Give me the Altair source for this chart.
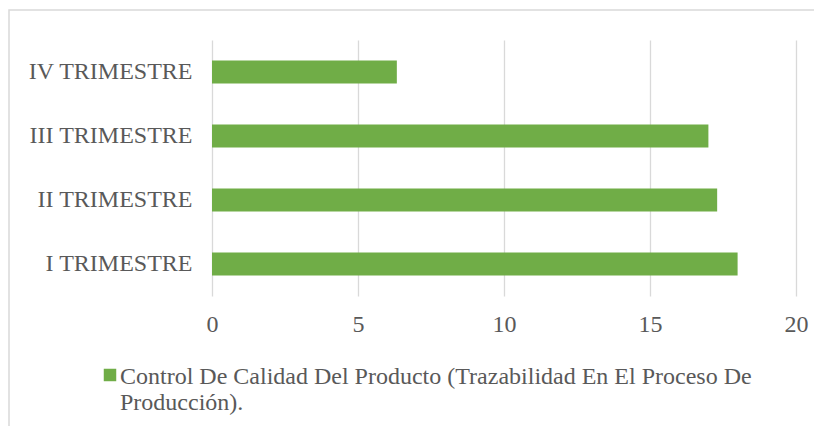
import altair as alt
import pandas as pd

categories = ["I TRIMESTRE", "II TRIMESTRE", "III TRIMESTRE", "IV TRIMESTRE"]
values = [18.0, 17.3, 17.0, 6.33]
series = "Control De Calidad Del Producto (Trazabilidad En El Proceso De Producción)."
legend_lines = ["Control De Calidad Del Producto (Trazabilidad En El Proceso De", "Producción)."]
x_ticks = [0, 5, 10, 15, 20]

df = pd.DataFrame({"cat": categories, "val": values, "serie": [series] * len(categories)})

FONT = "Times New Roman, Liberation Serif, serif"
GRAY = "#595959"
FS = 24

label_expr = "[" + ", ".join("'" + s + "'" for s in legend_lines) + "]"

bars = alt.Chart(df).mark_bar(color="#70AD47").encode(
    y=alt.Y("cat:N", sort=list(reversed(categories)), title=None,
            scale=alt.Scale(paddingInner=0.64, paddingOuter=0.32),
            axis=alt.Axis(domain=False, ticks=False, labelPadding=20, labelFontSize=FS,
                          labelFont=FONT, labelColor=GRAY, grid=False, labelLimit=300)),
    x=alt.X("val:Q", title=None, scale=alt.Scale(domain=[0, 20], nice=False),
            axis=alt.Axis(values=x_ticks, domain=False, ticks=False, labelPadding=16,
                          labelFlush=False, labelFontSize=FS, labelFont=FONT, labelColor=GRAY,
                          grid=True, gridColor="#D9D9D9", gridWidth=1.3)),
    color=alt.Color("serie:N", scale=alt.Scale(range=["#70AD47"]),
                    legend=alt.Legend(title=None, orient="none", legendX=-116, legendY=313,
                                      symbolType="M-0.68,0.6H1.32V2.6H-0.68Z", symbolSize=156,
                                      symbolStrokeWidth=0, labelFont=FONT, labelFontSize=FS,
                                      labelColor=GRAY, labelLimit=800, labelExpr=label_expr,
                                      labelBaseline="top", labelOffset=0)),
)

border = alt.Chart(alt.Data(values=[{}])).mark_rect(
    fill=None, stroke="#D9D9D9", strokeWidth=1.5
).encode(
    x=alt.value(-203), x2=alt.value(900), y=alt.value(-30), y2=alt.value(600)
)

chart = alt.layer(border, bars).properties(
    width=584, height=256,
    autosize=alt.AutoSizeParams(type="none"),
    padding={"left": 204, "top": 32, "right": 18, "bottom": 130},
).configure_view(stroke=None)

chart.save("out.html", embed_options={"renderer": "svg", "actions": False})
